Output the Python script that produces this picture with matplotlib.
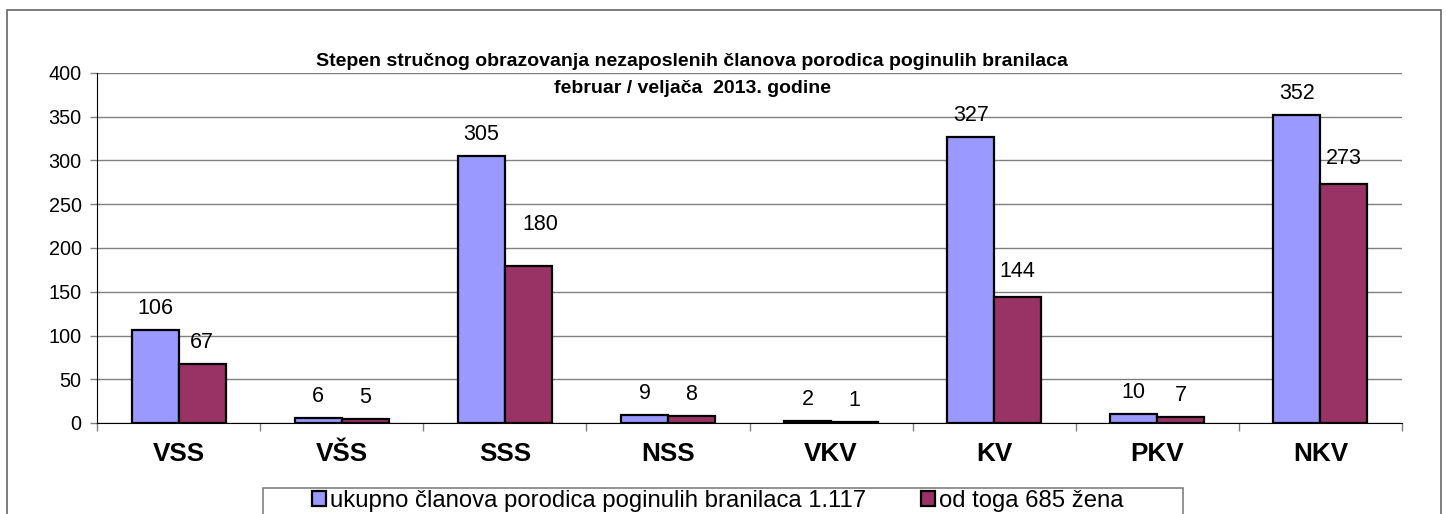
import matplotlib.pyplot as plt
import numpy as np
from matplotlib.patches import Rectangle

# data
categories = ['VSS', 'VŠS', 'SSS', 'NSS', 'VKV', 'KV', 'PKV', 'NKV']
ukupno = [106, 6, 305, 9, 2, 327, 10, 352]
zene = [67, 5, 180, 8, 1, 144, 7, 273]
series_names = ['ukupno članova porodica poginulih branilaca 1.117',
                'od toga 685 žena']
title_lines = ['Stepen stručnog obrazovanja nezaposlenih članova porodica poginulih branilaca',
               'februar / veljača  2013. godine']
yticks = [0, 50, 100, 150, 200, 250, 300, 350, 400]

plt.rcParams['font.family'] = ['Liberation Sans', 'DejaVu Sans']

fig = plt.figure(figsize=(14.46, 5.14), dpi=100)
ax = fig.add_axes([97/1446, 1-423/514, (1402-97)/1446, (423-73)/514])

x = np.arange(len(categories))
w = 0.288
b1 = ax.bar(x - w/2, ukupno, w, color='#9999FF', edgecolor='black', linewidth=1.6, zorder=3,
            label=series_names[0])
b2 = ax.bar(x + w/2, zene, w, color='#993366', edgecolor='black', linewidth=1.6, zorder=3,
            label=series_names[1])

# value labels (offsets in points)
for xi, v in zip(x - w/2, ukupno):
    ax.annotate(str(v), (xi, v), xytext=(0, 8), textcoords='offset points',
                ha='center', va='bottom', fontsize=15.5)
red_off = [(0, 8), (0, 8), (9, 22), (0, 8), (0, 8), (0, 11), (0, 8), (0, 11)]
for xi, v, off in zip(x + w/2, zene, red_off):
    ax.annotate(str(v), (xi, v), xytext=off, textcoords='offset points',
                ha='center', va='bottom', fontsize=15.5)

ax.set_xlim(-0.5, len(categories) - 0.5)
ax.set_ylim(0, 400)
ax.set_yticks(yticks)
ax.set_yticklabels([str(t) for t in yticks], fontsize=14.3)
ax.set_xticks(x)
ax.set_xticklabels(categories, fontsize=18.8, fontweight='bold')
ax.set_xticks(np.arange(len(categories) + 1) - 0.5, minor=True)
ax.tick_params(axis='x', which='major', length=0, pad=14)
ax.tick_params(axis='x', which='minor', length=6, color='#808080', width=1)
ax.tick_params(axis='y', length=5, width=1, color='#808080', pad=6)

ax.grid(axis='y', color='#808080', linewidth=1, zorder=0)
for s in ['top', 'right']:
    ax.spines[s].set_visible(False)
ax.spines['left'].set_color('black')
ax.spines['bottom'].set_color('black')

fig.text(692/1446, 1-62/514, title_lines[0], ha='center', va='center',
         fontsize=14, fontweight='bold')
fig.text(692/1446, 1-88/514, title_lines[1], ha='center', va='center',
         fontsize=14, fontweight='bold')

# outer frame and legend frame
fig.patches.append(Rectangle((7/1446, -0.1), (1441-7)/1446, 1.1-10/514, transform=fig.transFigure,
                             fill=False, edgecolor='#666666', linewidth=1.2))
fig.patches.append(Rectangle((263/1446, -0.1), (1183-263)/1446, 0.1+1-488/514, transform=fig.transFigure,
                             fill=False, edgecolor='#808080', linewidth=1.2))

leg = fig.legend(handles=[b1, b2], loc='upper left', bbox_to_anchor=(312/1446, 1-490/514),
                 ncol=2, frameon=False, fontsize=17.2, handlelength=0.6, handleheight=0.6,
                 handletextpad=0.15, columnspacing=2.3, borderpad=0, borderaxespad=0)

fig.savefig('out.png', dpi=100)
